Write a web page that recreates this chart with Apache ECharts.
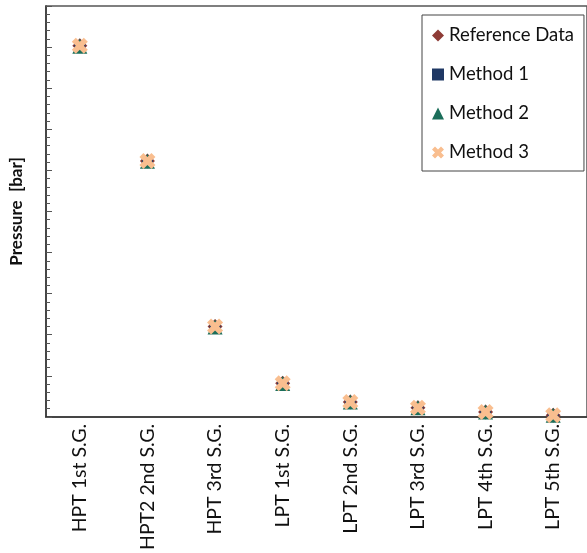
<!DOCTYPE html>
<html>
<head>
<meta charset="utf-8">
<script src="https://cdn.jsdelivr.net/npm/echarts@6/dist/echarts.min.js"></script>
<style>html,body{margin:0;padding:0;background:#fff}#c{width:587px;height:553px}</style>
</head>
<body>
<div id="c"></div>
<script>
var categories = ['HPT 1st S.G.', 'HPT2 2nd S.G.', 'HPT 3rd S.G.', 'LPT 1st S.G.', 'LPT 2nd S.G.', 'LPT 3rd S.G.', 'LPT 4th S.G.', 'LPT 5th S.G.'];
var referenceData = [90.3, 62.3, 22.0, 8.2, 3.6, 2.2, 1.2, 0.4];
var method1 = [90.1, 62.1, 21.8, 8.1, 3.5, 2.1, 1.1, 0.3];
var method2 = [90.2, 62.2, 21.9, 8.1, 3.6, 2.2, 1.2, 0.4];
var method3 = [90.3, 62.3, 22.0, 8.2, 3.6, 2.2, 1.2, 0.4];
var seriesNames = ['Reference Data', 'Method 1', 'Method 2', 'Method 3'];

var FONT = 'Lato';
var crossPath = 'path://M2.5,0 L5,2.5 L7.5,0 L10,2.5 L7.5,5 L10,7.5 L7.5,10 L5,7.5 L2.5,10 L0,7.5 L2.5,5 L0,2.5 Z';

var chart = echarts.init(document.getElementById('c'));
chart.setOption({
  animation: false,
  backgroundColor: '#ffffff',
  grid: { left: 41, top: 6, width: 551, height: 413, show: true, borderColor: '#555', borderWidth: 1.5 },
  legend: {
    orient: 'vertical',
    left: 422, top: 15,
    padding: [10, 10, 8, 10],
    itemGap: 18,
    itemWidth: 12, itemHeight: 12,
    borderColor: '#444', borderWidth: 1,
    backgroundColor: '#fff',
    textStyle: { fontFamily: FONT, fontSize: 18.5, lineHeight: 21, color: '#111' },
    data: [
      { name: seriesNames[0], icon: 'diamond' },
      { name: seriesNames[1], icon: 'rect' },
      { name: seriesNames[2], icon: 'triangle' },
      { name: seriesNames[3], icon: crossPath }
    ]
  },
  xAxis: [{
    type: 'category',
    data: categories,
    boundaryGap: true,
    axisLine: { lineStyle: { color: '#333', width: 1.5 } },
    axisTick: { alignWithLabel: true, inside: true, length: 6, lineStyle: { color: '#333' } },
    axisLabel: { rotate: 90, fontFamily: FONT, fontSize: 19.5, color: '#111', margin: 7 },
    splitLine: { show: false }
  }, {
    type: 'category',
    data: categories,
    position: 'bottom',
    boundaryGap: true,
    axisLine: { show: false },
    axisTick: { alignWithLabel: true, inside: false, length: 5, lineStyle: { color: '#333' } },
    axisLabel: { show: false },
    splitLine: { show: false }
  }],
  yAxis: {
    type: 'value',
    min: 0, max: 100, interval: 10,
    name: 'Pressure  [bar]',
    nameLocation: 'middle',
    nameGap: 21,
    nameRotate: 90,
    nameTextStyle: { fontFamily: FONT, fontSize: 17, fontWeight: 'bold', color: '#111' },
    axisLine: { show: true, lineStyle: { color: '#333', width: 1.5 } },
    axisTick: { show: true, inside: true, length: 6, lineStyle: { color: '#555' } },
    minorTick: { show: true, splitNumber: 5, length: 4, lineStyle: { color: '#555' } },
    axisLabel: { show: false },
    splitLine: { show: false }
  },
  series: [
    { name: seriesNames[0], type: 'scatter', data: referenceData, symbol: 'diamond', symbolSize: 15, itemStyle: { color: '#8E3B36', opacity: 1 }, z: 2 },
    { name: seriesNames[1], type: 'scatter', data: method1, symbol: 'rect', symbolSize: 11, itemStyle: { color: '#1F3864', opacity: 1 }, z: 3 },
    { name: seriesNames[2], type: 'scatter', data: method2, symbol: 'triangle', symbolSize: 15, itemStyle: { color: '#1B6E5A', opacity: 1 }, z: 4 },
    { name: seriesNames[3], type: 'scatter', data: method3, symbol: crossPath, symbolSize: 16, itemStyle: { color: '#F9BE8F', opacity: 1 }, z: 5 }
  ]
});
</script>
</body>
</html>
